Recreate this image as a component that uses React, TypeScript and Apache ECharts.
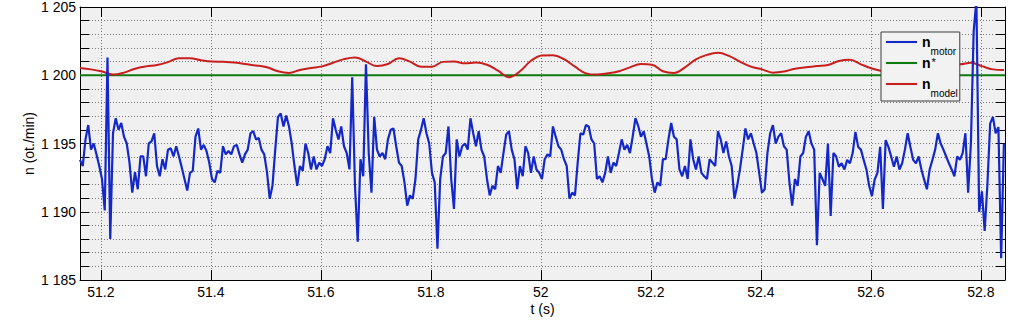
import React, { useEffect, useRef } from "react";
import * as echarts from "echarts";

// ---- data ----
const T_START = 51.162;
const T_END = 52.844;
const MOTOR_STEP = 0.005; // s between motor samples
const MODEL_STEP = 0.02; // s between model samples

const motorValues = [
  1193.8, 1193.35, 1195.3, 1196.35, 1194.55, 1195, 1194.2, 1193.35, 1192.4, 1190.1,
  1201.3, 1188, 1195.75, 1196.85, 1196, 1196.5, 1195.5, 1195, 1193.6, 1191.4,
  1192.9, 1191.65, 1194.05, 1194.05, 1192.6, 1195, 1195.15, 1195.75, 1193.35, 1192.6,
  1193.85, 1193.1, 1194.55, 1194.65, 1194.05, 1194.8, 1194.05, 1193.25, 1192.4, 1191.55,
  1192.85, 1193, 1195.5, 1196.1, 1194.55, 1194.9, 1194.45, 1193.6, 1192.4, 1192.15,
  1193, 1192.85, 1194.8, 1194.2, 1194.45, 1194.2, 1194.8, 1194.9, 1194.2, 1193.6,
  1194.2, 1194.55, 1195.75, 1195.9, 1195.3, 1195.4, 1194.55, 1194.2, 1192.9, 1190.95,
  1191.9, 1194.55, 1196.95, 1197.2, 1196.25, 1197.05, 1196.25, 1195, 1193.35, 1191.9,
  1193.35, 1193, 1195, 1194.3, 1193.1, 1194.05, 1193.1, 1193.6, 1193.35, 1193.85,
  1194.8, 1194.3, 1196.85, 1196, 1195.3, 1196.25, 1194.8, 1194.3, 1193.1, 1199.85,
  1191.9, 1187.8, 1193.85, 1192.6, 1200.8, 1194.3, 1191.4, 1196.95, 1194.55, 1194.05,
  1194.3, 1193.85, 1195.3, 1196, 1196.1, 1194.8, 1193.6, 1193.35, 1192.15, 1190.45,
  1191.2, 1190.95, 1192.4, 1195.3, 1196, 1196.85, 1195.75, 1195, 1192.85, 1192.15,
  1187.3, 1192.4, 1194.05, 1194.3, 1196.25, 1192.4, 1190.2, 1195.3, 1194.05, 1194.8,
  1195, 1194.55, 1196.85, 1195.75, 1194.8, 1195.9, 1194.55, 1194.05, 1192.4, 1191.2,
  1191.9, 1191.65, 1193.35, 1192.85, 1194.3, 1195.65, 1195.9, 1194.55, 1193.85, 1191.65,
  1193.35, 1192.6, 1194.8, 1194.3, 1192.85, 1194.05, 1193.1, 1192.85, 1192.4, 1193.85,
  1194.2, 1194.05, 1196.25, 1195.5, 1194.8, 1194.55, 1193.85, 1193.35, 1190.95, 1191.4,
  1191.2, 1193.6, 1195.75, 1195.65, 1196.35, 1196.25, 1195.3, 1195, 1192.4, 1192.6,
  1192.15, 1192.85, 1194.05, 1192.85, 1193.6, 1193.35, 1194.3, 1195.3, 1194.55, 1194.9,
  1194.3, 1195.5, 1196.85, 1196.3, 1195.5, 1195.9, 1195, 1194.05, 1192.4, 1191.4,
  1192.15, 1191.9, 1193.85, 1193.85, 1195.3, 1196.5, 1195.5, 1195.3, 1193.1, 1192.6,
  1193.35, 1192.4, 1195.3, 1193.85, 1193.1, 1194.05, 1192.85, 1192.6, 1192.4, 1193.85,
  1193.6, 1193.35, 1195.9, 1195.3, 1194.3, 1195.15, 1194.05, 1193.35, 1190.95, 1191.9,
  1193.1, 1194.55, 1196.1, 1195.3, 1195.75, 1195, 1194.3, 1192.85, 1191.4, 1191.65,
  1194.3, 1195.75, 1196.35, 1195, 1195.5, 1195.75, 1194.8, 1194.55, 1192.15, 1190.45,
  1192.4, 1191.9, 1194.05, 1194.3, 1195.5, 1195.9, 1195, 1194.55, 1187.55, 1192.85,
  1192.4, 1191.9, 1195, 1189.7, 1194.3, 1194.05, 1193.3, 1193.55, 1193.1, 1193.8,
  1193.55, 1194.3, 1195.85, 1194.75, 1194.55, 1193.8, 1193.1, 1191.9, 1191.15, 1192.35,
  1192.85, 1194.75, 1190.2, 1195.25, 1194.75, 1194.05, 1193.3, 1194.05, 1193.1, 1193.55,
  1194.55, 1195.75, 1194.75, 1193.8, 1193.55, 1194.05, 1193.1, 1192.35, 1191.65, 1193.1,
  1193.8, 1194.55, 1195.75, 1195, 1194.55, 1194.05, 1193.55, 1193.1, 1192.6, 1194.05,
  1193.8, 1194.3, 1195.75, 1191.4, 1195, 1203.2, 1205.5, 1190, 1191.5, 1188.6,
  1192, 1196.45, 1196.95, 1195.75, 1196.2, 1186.6, 1195,
];

const modelValues = [
  1200.53, 1200.43, 1200.27, 1200.05, 1200.19, 1200.48, 1200.65, 1200.75, 1200.96, 1201.25,
  1201.25, 1201.1, 1201, 1200.98, 1200.94, 1200.82, 1200.72, 1200.58, 1200.29, 1200.17,
  1200.39, 1200.53, 1200.65, 1200.92, 1201.18, 1201.3, 1201, 1200.67, 1200.82, 1201.25,
  1201, 1200.63, 1200.63, 1200.98, 1201, 1200.87, 1200.94, 1200.77, 1200.34, 1199.86,
  1200.29, 1201.06, 1201.45, 1201.47, 1201.18, 1200.63, 1200.14, 1200.05, 1200.14, 1200.29,
  1200.58, 1200.82, 1200.77, 1200.29, 1200.17, 1200.58, 1201.16, 1201.49, 1201.64, 1201.42,
  1201, 1200.63, 1200.43, 1200.19, 1200.27, 1200.48, 1200.58, 1200.67, 1200.75, 1201.04,
  1201.13, 1200.8, 1200.5, 1200.3, 1200.2, 1200.2, 1200.35, 1200.55, 1200.75, 1200.82,
  1200.8, 1200.92, 1200.67, 1200.43, 1200.39,
];

const refTimes = [51.162, 52.844];
const refValues = [1200, 1200];

const Y_MIN = 1185;
const Y_MAX = 1205;
const Y_STEP = 5;
const X_STEP = 0.2;

const seriesNames = ["n_motor", "n*", "n_model"];

function toPairs(start: number, step: number, vals: number[]) {
  return vals.map((v, i) => [Number((start + i * step).toFixed(4)), v]);
}

const FONT = "'Liberation Sans', Arial, Helvetica, sans-serif";
const gridLine = { color: "#7a7a7a", width: 1, type: [1, 2] as any };
const LINE_ICON = "path://M0,0H30V2H0Z";

function fmtY(v: number) {
  const s = String(Math.round(v));
  return s.length > 3 ? s.slice(0, s.length - 3) + " " + s.slice(-3) : s;
}

export default function App() {
  const ref = useRef<HTMLDivElement>(null);
  useEffect(() => {
    document.body.style.margin = "0";
    const chart = echarts.init(ref.current!, undefined, { renderer: "svg" });
    const xCommon = {
      type: "value",
      min: T_START,
      max: T_END,
      splitNumber: 8,
      minInterval: X_STEP,
      maxInterval: X_STEP,
    };
    const yCommon = {
      type: "value",
      min: Y_MIN,
      max: Y_MAX,
      interval: Y_STEP,
    };
    chart.setOption({
      animation: false,
      backgroundColor: "#ffffff",
      textStyle: { fontFamily: FONT },
      grid: {
        left: 80,
        right: 18,
        top: 5,
        bottom: 39,
        show: true,
        backgroundColor: "#f0f0f0",
        borderWidth: 0,
      },
      legend: {
        orient: "vertical",
        left: 881,
        top: 32,
        padding: [3, 2, 3, 5],
        itemGap: 0,
        itemWidth: 31,
        itemHeight: 14,
        icon: LINE_ICON,
        backgroundColor: "#f2f2f2",
        borderColor: "#3c3c3c",
        borderWidth: 1,
        borderRadius: 0,
        data: seriesNames,
        formatter: (name: string) => {
          if (name === "n_motor") return "{n|n}{sub|motor}";
          if (name === "n_model") return "{n|n}{sub|model}";
          return "{n|n}{sup|*}{sp| }";
        },
        textStyle: {
          fontFamily: FONT,
          color: "#000",
          rich: {
            n: { fontSize: 14, fontWeight: "bold", lineHeight: 14, verticalAlign: "top", fontFamily: FONT, color: "#000" },
            sub: { fontSize: 10, lineHeight: 10, padding: [11, 0, 0, 0], verticalAlign: "top", fontFamily: FONT, color: "#000" },
            sup: { fontSize: 11, lineHeight: 11, padding: [0, 0, 0, 1], verticalAlign: "top", fontFamily: FONT, color: "#000" },
            sp: { fontSize: 10, lineHeight: 10, padding: [11, 0, 0, 0], verticalAlign: "top", fontFamily: FONT },
          },
        },
      },
      xAxis: [
        {
          ...xCommon,
          position: "bottom",
          name: "t (s)",
          nameLocation: "middle",
          nameGap: 22,
          nameMoveOverlap: false,
          nameTextStyle: { fontSize: 14, color: "#000", fontFamily: FONT },
          axisLine: { show: true, onZero: false, lineStyle: { color: "#000", width: 1 } },
          axisTick: { show: true, inside: true, length: 10, lineStyle: { color: "#000", width: 1 } },
          axisLabel: {
            show: true,
            fontSize: 14,
            color: "#000",
            margin: 5,
            fontFamily: FONT,
            showMinLabel: false,
            showMaxLabel: false,
            formatter: (v: number) => String(Number(v.toFixed(1))),
          },
          splitLine: { show: true, lineStyle: gridLine },
        },
        {
          ...xCommon,
          position: "top",
          axisLine: { show: true, onZero: false, lineStyle: { color: "#000", width: 1 } },
          axisTick: { show: true, inside: true, length: 10, lineStyle: { color: "#000", width: 1 } },
          axisLabel: { show: false },
          splitLine: { show: false },
        },
      ],
      yAxis: [
        {
          ...yCommon,
          position: "left",
          name: "n (ot./min)",
          nameLocation: "middle",
          nameGap: 44,
          nameMoveOverlap: false,
          nameTextStyle: { fontSize: 14, color: "#000", fontFamily: FONT },
          axisLine: { show: true, onZero: false, lineStyle: { color: "#000", width: 1 } },
          axisTick: { show: true, inside: true, length: 9, lineStyle: { color: "#000", width: 1 } },
          minorTick: { show: true, splitNumber: 5, length: 9, lineStyle: { color: "#000", width: 1 } },
          axisLabel: { show: true, fontSize: 14, color: "#000", margin: 4, fontFamily: FONT, formatter: fmtY },
          splitLine: { show: true, lineStyle: gridLine },
          minorSplitLine: { show: true, lineStyle: gridLine },
        },
        {
          ...yCommon,
          position: "right",
          axisLine: { show: true, onZero: false, lineStyle: { color: "#000", width: 1 } },
          axisTick: { show: true, inside: true, length: 9, lineStyle: { color: "#000", width: 1 } },
          minorTick: { show: true, splitNumber: 5, length: 9, lineStyle: { color: "#000", width: 1 } },
          axisLabel: { show: false },
          splitLine: { show: false },
        },
      ],
      series: [
        {
          name: "n_motor",
          type: "line",
          xAxisIndex: 0,
          yAxisIndex: 0,
          data: toPairs(T_START, MOTOR_STEP, motorValues),
          symbol: "none",
          z: 4,
          lineStyle: { color: "#1428c8", width: 2.2 },
          itemStyle: { color: "#1428c8" },
        },
        {
          name: "n*",
          type: "line",
          xAxisIndex: 0,
          yAxisIndex: 0,
          data: refTimes.map((t, i) => [t, refValues[i]]),
          symbol: "none",
          z: 2,
          lineStyle: { color: "#0c7a0c", width: 2 },
          itemStyle: { color: "#0c7a0c" },
        },
        {
          name: "n_model",
          type: "line",
          xAxisIndex: 0,
          yAxisIndex: 0,
          data: toPairs(T_START, MODEL_STEP, modelValues),
          symbol: "none",
          smooth: 0.4,
          z: 3,
          lineStyle: { color: "#c81e1e", width: 2 },
          itemStyle: { color: "#c81e1e" },
        },
      ],
    });
    return () => chart.dispose();
  }, []);
  return <div ref={ref} style={{ width: 1023, height: 321 }} />;
}
